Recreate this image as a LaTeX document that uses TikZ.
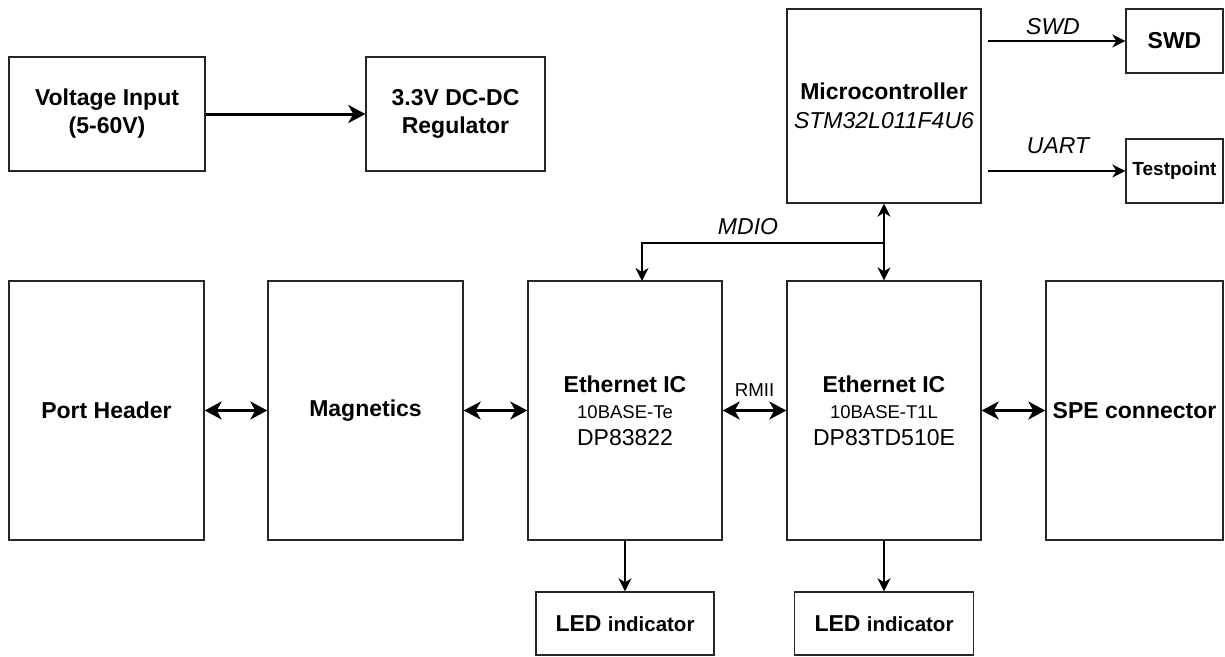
\documentclass[tikz,border=0pt]{standalone}
\usepackage{fontspec}
\setmainfont{Liberation Sans}
\usetikzlibrary{arrows.meta}
\begin{document}
\begin{tikzpicture}[x=1pt,y=-1pt,
  box/.style={draw=black!85,line width=1.4pt,inner sep=0pt,align=center,text=black},
  bigfont/.style={font=\fontsize{23}{28}\selectfont\bfseries},
  lbl/.style={font=\fontsize{23}{27}\selectfont\itshape,inner sep=0pt,text=black},
  bigtip/.tip={Stealth[length=17pt,width=18pt,inset=5pt]},
  smalltip/.tip={Stealth[length=13pt,width=13pt,inset=4pt]},
  bothbig/.style={line width=2.8pt,draw=black,bigtip-bigtip},
  onebig/.style={line width=3pt,draw=black,-bigtip},
  thinarr/.style={line width=1.5pt,draw=black,-smalltip},
  thinboth/.style={line width=1.5pt,draw=black,smalltip-smalltip}
]
\useasboundingbox[fill=white] (0,0) rectangle (1225,656);

% top row
\node[box,bigfont,minimum width=196pt,minimum height=114pt] (volt) at (107,114) {Voltage Input\\(5-60V)};
\node[box,bigfont,minimum width=179pt,minimum height=114pt] (reg) at (455.5,114) {3.3V DC-DC\\Regulator};
\node[box,minimum width=194pt,minimum height=194pt,font=\fontsize{23}{29}\selectfont] (mcu) at (884,106) {\bfseries Microcontroller\\\itshape STM32L011F4U6};
\node[box,bigfont,minimum width=97pt,minimum height=64pt] (swd) at (1174.5,41) {SWD};
\node[box,font=\fontsize{19}{23}\selectfont\bfseries,minimum width=97pt,minimum height=64pt] (test) at (1174.5,171) {Testpoint};

% middle row
\node[box,bigfont,minimum width=195pt,minimum height=259pt] (port) at (106.5,410.5) {Port Header};
\node[box,bigfont,minimum width=195pt,minimum height=259pt] (mag) at (365.5,410.5) {Magnetics};
\node[box,minimum width=194pt,minimum height=259pt,font=\fontsize{23}{26.5}\selectfont] (eth1) at (625,410.5)
  {\bfseries Ethernet IC\\\fontsize{18.5}{26.5}\selectfont 10BASE-Te\\DP83822};
\node[box,minimum width=194pt,minimum height=259pt,font=\fontsize{23}{26.5}\selectfont] (eth2) at (884,410.5)
  {\bfseries Ethernet IC\\\fontsize{18.5}{26.5}\selectfont 10BASE-T1L\\DP83TD510E};
\node[box,bigfont,minimum width=177pt,minimum height=259pt] (spe) at (1134.5,410.5) {SPE connector};

% bottom row
\node[box,minimum width=178pt,minimum height=63pt,font=\bfseries] (led1) at (625,623.5) {\fontsize{23}{27}\selectfont LED \fontsize{20.5}{27}\selectfont indicator};
\node[box,minimum width=179pt,minimum height=63pt,font=\bfseries] (led2) at (884,623.5) {\fontsize{23}{27}\selectfont LED \fontsize{20.5}{27}\selectfont indicator};

% power
\draw[onebig] (volt.east) -- (reg.west);

% data chain
\draw[bothbig] (port.east) -- (mag.west);
\draw[bothbig] (mag.east) -- (eth1.west);
\draw[bothbig] (eth1.east) -- node[above=13pt,font=\fontsize{18.7}{22}\selectfont,inner sep=0pt,text=black] (rmii) {RMII} (eth2.west);
\draw[bothbig] (eth2.east) -- (spe.west);

% MCU outputs
\coordinate (swdsrc) at (988,41);
\coordinate (uartsrc) at (988,171);
\draw[thinarr] (swdsrc) -- (swd.west);
\draw[thinarr] (uartsrc) -- (test.west);
\node[lbl] (swdlbl) at (1053,27) {SWD};
\node[lbl] (uartlbl) at (1058,146) {UART};

% MDIO
\coordinate (mdioj) at (884,243);
\coordinate (eth1in) at (642,281);
\draw[thinboth] (mcu.south) -- (eth2.north);
\draw[thinarr] (mdioj) -| (eth1in);
\node[lbl] (mdiolbl) at (748,227) {MDIO};

% LEDs
\draw[thinarr] (eth1.south) -- (led1.north);
\draw[thinarr] (eth2.south) -- (led2.north);
\end{tikzpicture}
\end{document}
